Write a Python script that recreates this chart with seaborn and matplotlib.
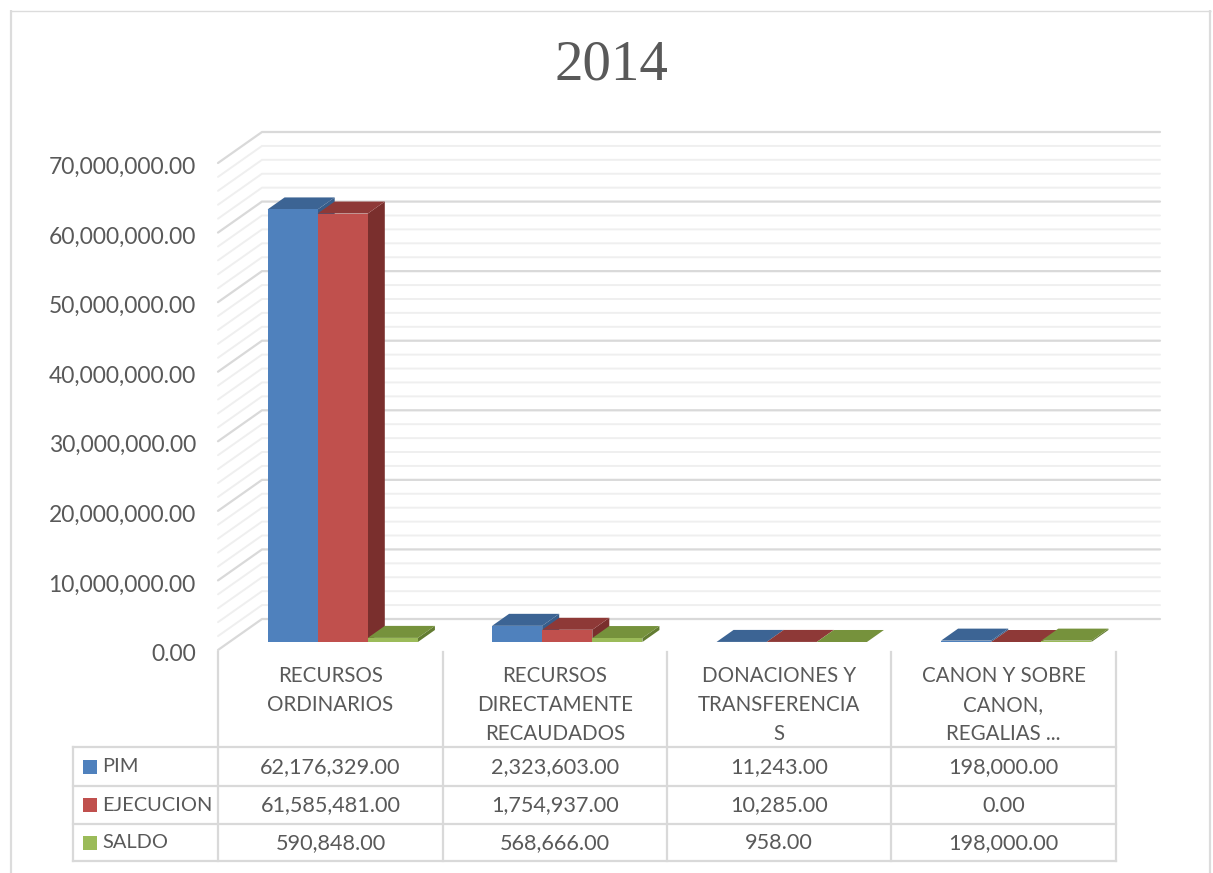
import matplotlib
matplotlib.use("Agg")
import matplotlib.pyplot as plt
from matplotlib.patches import Polygon, Rectangle
from matplotlib.ticker import StrMethodFormatter
from matplotlib.transforms import ScaledTranslation
import pandas as pd
import seaborn as sns

categories = ["RECURSOS\nORDINARIOS", "RECURSOS\nDIRECTAMENTE\nRECAUDADOS",
              "DONACIONES Y\nTRANSFERENCIA\nS", "CANON Y SOBRE\nCANON,\nREGALIAS ..."]
series_names = ["PIM", "EJECUCION", "SALDO"]
pim = [62176329.00, 2323603.00, 11243.00, 198000.00]
ejecucion = [61585481.00, 1754937.00, 10285.00, 0.00]
saldo = [590848.00, 568666.00, 958.00, 198000.00]
front_colors = ["#4f81bd", "#c0504d", "#9bbb59"]
top_colors = ["#3c6494", "#8e3937", "#76923c"]
side_colors = ["#375d8a", "#7a2f2d", "#637c32"]
title = "2014"

W, H = 1213, 873
DPI = 100
TEXT = "#595959"
GRID_MAJOR = "#d9d9d9"
GRID_MINOR = "#efefef"
BODY_FONT = ["Lato", "DejaVu Sans"]

sns.set_theme(style="white")
plt.rcParams["font.family"] = BODY_FONT

fig = plt.figure(figsize=(W / DPI, H / DPI), dpi=DPI, facecolor="white")


def px_axes(left, top, right, bottom, **kw):
    return fig.add_axes([left / W, 1 - bottom / H, (right - left) / W, (bottom - top) / H], **kw)


# Layout layer in pixel coordinates: frame, table rules, legend keys
canvas = px_axes(0, 0, W, H, zorder=0)
canvas.set_xlim(0, W)
canvas.set_ylim(H, 0)
canvas.axis("off")
frame = dict(color="#dcdcdc", solid_capstyle="butt")
canvas.plot([11, 11], [10, H], lw=1.6, **frame)
canvas.plot([1210, 1210], [10, H], lw=1.6, **frame)
canvas.plot([10, 1211], [10.5, 10.5], lw=1.0, **frame)
canvas.text(611, 60, title, ha="center", va="center_baseline", fontsize=41, color=TEXT,
            family=["Liberation Serif", "DejaVu Serif"])

# Value axis and wall/floor gridlines
wall = px_axes(218, 163, 1116, 650, zorder=1)
wall.set_xlim(-0.5, 3.5)
wall.set_ylim(0, 70e6)
wall.patch.set_alpha(0)
for s in wall.spines.values():
    s.set_visible(False)
wall.set_xticks([])
wall.set_yticks(range(0, 70000001, 10000000))
wall.yaxis.set_major_formatter(StrMethodFormatter("{x:,.2f}"))
wall.tick_params(axis="y", length=0, pad=16, labelsize=16.5, labelcolor=TEXT)
label_shift = ScaledTranslation(0, -4.5 / DPI, fig.dpi_scale_trans)
for lab in wall.get_yticklabels():
    lab.set_verticalalignment("center")
    lab.set_transform(lab.get_transform() + label_shift)

x_per_px = 4 / (1116 - 218)
y_per_px = 70e6 / (650 - 163)
wall_dx, wall_dy = 44 * x_per_px, 31 * y_per_px
wall_right = 3.5 + 44 * x_per_px
for v in range(0, 70000001, 2000000):
    major = v % 10000000 == 0
    wall.plot([-0.5, -0.5 + wall_dx, wall_right], [v, v + wall_dy, v + wall_dy],
              color=GRID_MAJOR if major else GRID_MINOR, lw=1.6 if major else 1.4,
              clip_on=False, solid_joinstyle="miter", zorder=1 if not major else 2)

# Columns sit a little way in from the front edge of the floor
bars = px_axes(218 + 12.5, 155, 1116 + 12.5, 642, zorder=2)
bars.patch.set_alpha(0)
df = pd.DataFrame({
    "category": categories * 3,
    "series": [n for n in series_names for _ in categories],
    "value": pim + ejecucion + saldo,
})
sns.barplot(data=df, x="category", y="value", hue="series", hue_order=series_names,
            order=categories, palette=front_colors, width=150 / 224, gap=0, dodge=True,
            legend=False, ax=bars, saturation=1, linewidth=0, edgecolor="none")
bars.set_xlim(-0.5, 3.5)
bars.set_ylim(0, 70e6)
bars.axis("off")

# Depth faces of each column, painted left to right so nearer faces overlap
depth_x, depth_y = 17 * x_per_px, 12 * y_per_px
order = 3.0
for cat_idx in range(len(categories)):
    for s_idx, container in enumerate(bars.containers):
        bar = container.patches[cat_idx]
        x0, w, h = bar.get_x(), bar.get_width(), bar.get_height()
        x1 = x0 + w
        bars.add_patch(Polygon([(x1, 0), (x1 + depth_x, depth_y), (x1 + depth_x, h + depth_y), (x1, h)],
                               fc=side_colors[s_idx], ec="none", zorder=order, clip_on=False))
        bars.add_patch(Polygon([(x0, h), (x0 + depth_x, h + depth_y), (x1 + depth_x, h + depth_y), (x1, h)],
                               fc=top_colors[s_idx], ec="none", zorder=order + 0.1, clip_on=False))
        bar.set_zorder(order + 0.2)
        order += 1

# Data table below the plot
col_edges = [218, 443, 667, 891, 1116]
row_edges = [747, 786, 824, 861]
rule = dict(color="#d9d9d9", lw=1.6, solid_capstyle="projecting")
for x in col_edges:
    canvas.plot([x, x], [652, row_edges[-1]], **rule)
canvas.plot([73, 73], [row_edges[0], row_edges[-1]], **rule)
for y in row_edges:
    canvas.plot([73, 1116], [y, y], **rule)

label_ys = [676, 705, 734]
for i, cat in enumerate(categories):
    cx = (col_edges[i] + col_edges[i + 1]) / 2
    for line, y in zip(cat.split("\n"), label_ys):
        canvas.text(cx, y, line, ha="center", va="center", fontsize=14.8, color=TEXT)

rows = [pim, ejecucion, saldo]
for r, name in enumerate(series_names):
    yc = (row_edges[r] + row_edges[r + 1]) / 2 + 0.5
    canvas.add_patch(Rectangle((83, yc - 7.5), 14, 14, fc=front_colors[r], ec="none"))
    canvas.text(102, yc, name, ha="left", va="center", fontsize=14.4, color=TEXT)
    for c, val in enumerate(rows[r]):
        cx = (col_edges[c] + col_edges[c + 1]) / 2
        canvas.text(cx, yc, f"{val:,.2f}", ha="center", va="center", fontsize=15.6, color=TEXT)

fig.savefig("out.png", dpi=DPI, facecolor="white")
